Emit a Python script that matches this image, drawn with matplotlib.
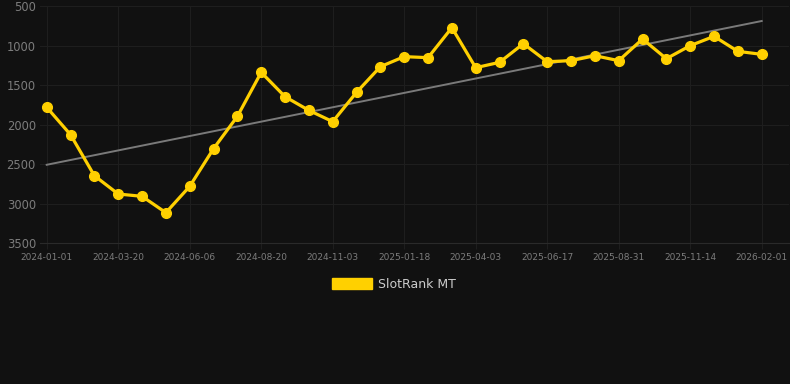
import numpy as np
import matplotlib
matplotlib.use("Agg")
import matplotlib.pyplot as plt
from matplotlib.patches import Patch

# points are evenly spaced along the axis, one every ~25 days
rank = [1782, 2129, 2648, 2880, 2909, 3116, 2783, 2306, 1897, 1340,
        1648, 1821, 1964, 1593, 1268, 1141, 1154, 774, 1281, 1213,
        977, 1205, 1192, 1129, 1192, 918, 1167, 1002, 884, 1074, 1112]
x = np.arange(len(rank))

trend_vals = [2510, 690]

tick_labels = ["2024-01-01", "2024-03-20", "2024-06-06", "2024-08-20", "2024-11-03",
               "2025-01-18", "2025-04-03", "2025-06-17", "2025-08-31", "2025-11-14",
               "2026-02-01"]
y_ticks = [500, 1000, 1500, 2000, 2500, 3000, 3500]

bg = "#111111"
gold = "#FFD000"
grid_c = "#1e1e1e"
label_c = "#7c7c7c"

fig = plt.figure(figsize=(7.9, 3.84), dpi=100, facecolor=bg)
ax = fig.add_axes([40 / 790, 1 - 243 / 384, 749 / 790, 237 / 384])
ax.set_facecolor(bg)

ax.plot([x[0], x[-1]], trend_vals, color="#7a7a7a", lw=1.4, zorder=2)
ax.plot(x, rank, color=gold, lw=2.3, marker="o", ms=7, zorder=3)

step = 715 / 30  # pixels per point
ax.set_xlim(-6.7 / step, 30 + 27.3 / step)
ax.set_ylim(3500, 500)

ax.set_xticks(np.linspace(0, 30, len(tick_labels)))
ax.set_xticklabels(tick_labels)
ax.set_yticks(y_ticks)
ax.set_yticklabels([str(v) for v in y_ticks])

ax.tick_params(axis="x", colors=label_c, labelsize=6.5, length=4, color=grid_c, pad=3)
ax.tick_params(axis="y", colors=label_c, labelsize=8.3, length=0, pad=3)
ax.grid(True, color=grid_c, lw=0.8)
ax.set_axisbelow(True)
for s in ax.spines.values():
    s.set_visible(False)
ax.spines["bottom"].set_visible(True)
ax.spines["bottom"].set_color("#2a2a2a")

fig.legend(handles=[Patch(facecolor=gold, edgecolor=gold)], labels=["SlotRank MT"],
           loc="center", bbox_to_anchor=(394 / 790, 1 - 284 / 384),
           frameon=False, handlelength=3.2, handleheight=1.0, handletextpad=0.5,
           labelcolor="#cccccc", fontsize=9)

fig.savefig("out.png", dpi=100, facecolor=bg)
